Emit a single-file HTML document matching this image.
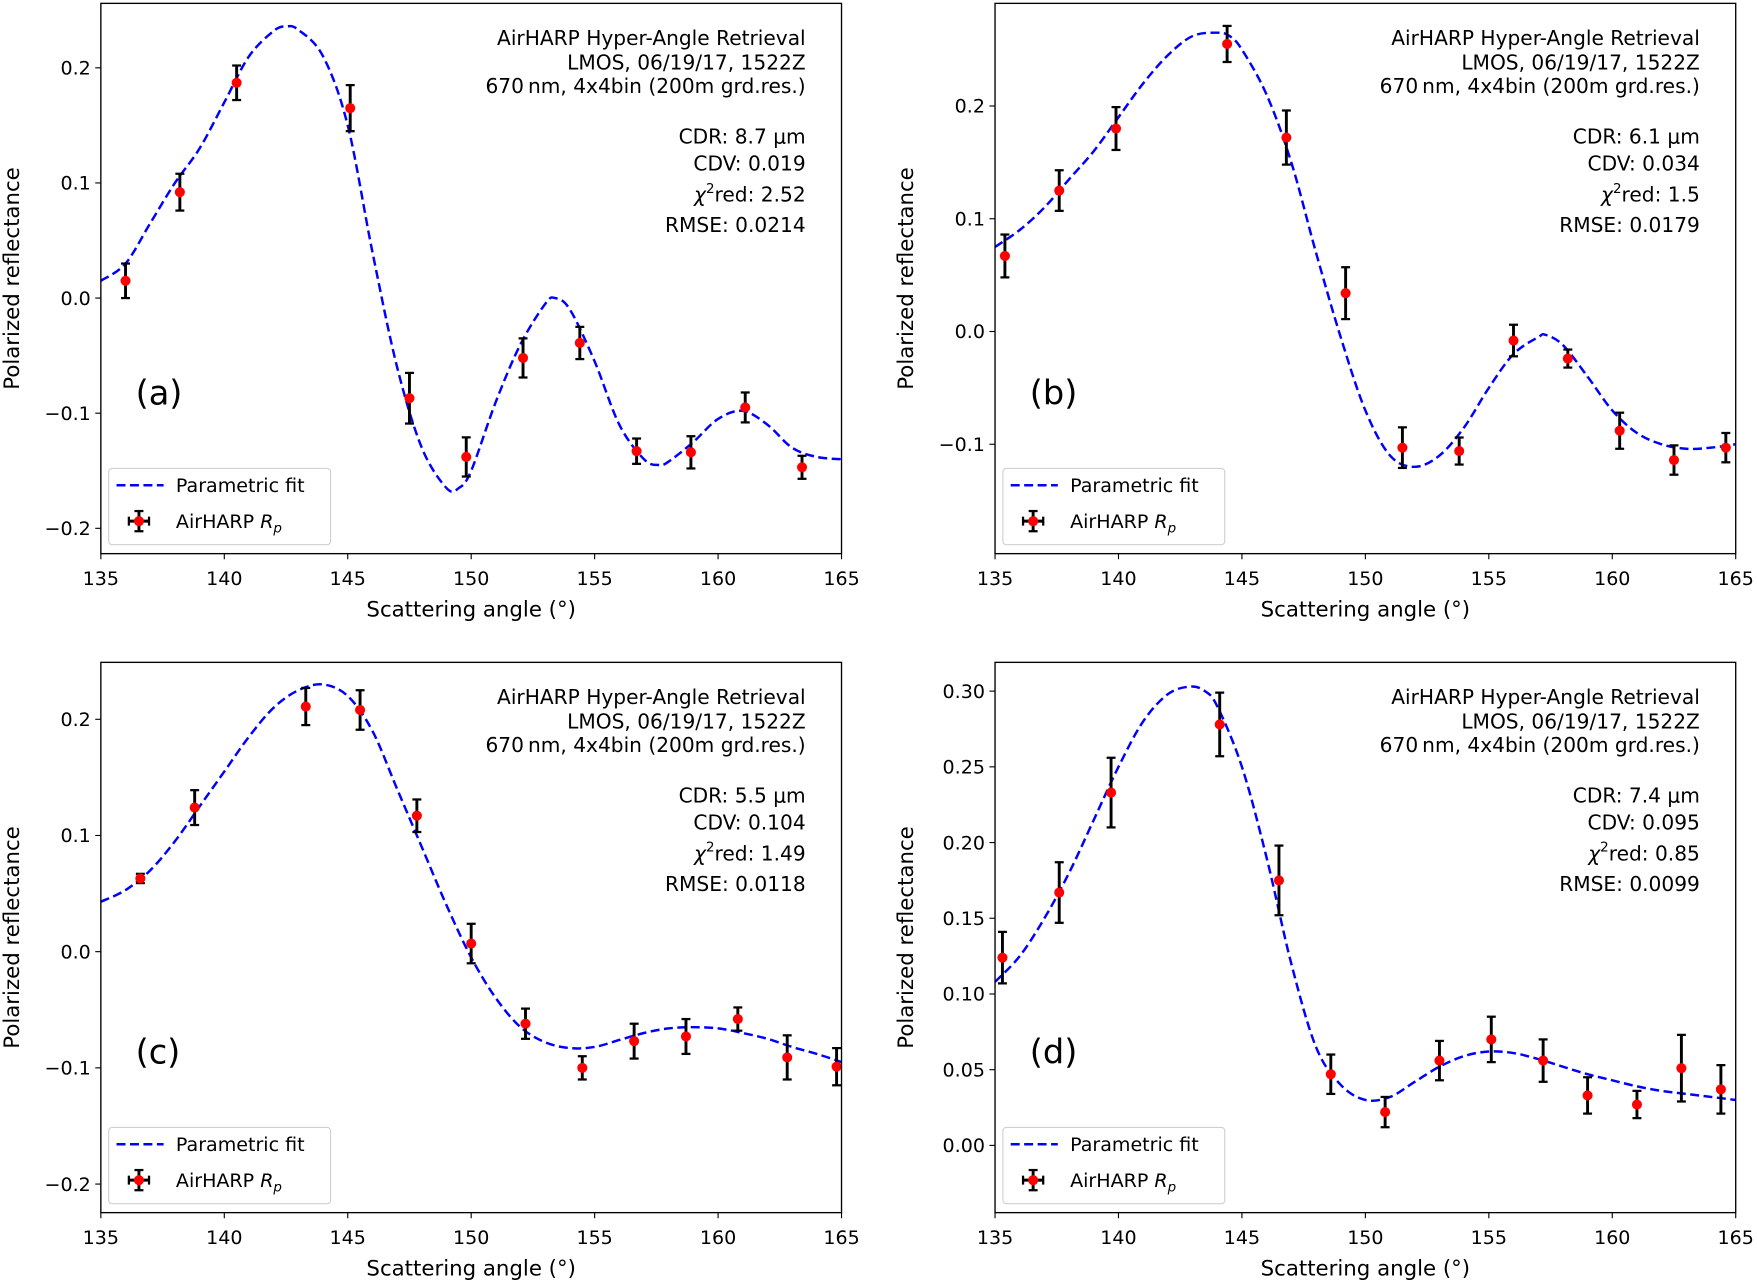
<!DOCTYPE html>
<html><head><meta charset="utf-8"><style>
html,body{margin:0;padding:0;background:#fff;}
svg{display:block;font-family:"DejaVu Sans","Liberation Sans",sans-serif;}
</style></head><body>
<svg id="fig" width="1757" height="1281" viewBox="0 0 1568 1143" preserveAspectRatio="none" xmlns="http://www.w3.org/2000/svg"></svg>
<script>
const xTicks=[135,140,145,150,155,160,165];
// panel a
const aX=[136.0,138.2,140.5,145.1,147.5,149.8,152.1,154.4,156.7,158.9,161.1,163.4];
const aY=[0.015,0.092,0.187,0.165,-0.087,-0.138,-0.052,-0.039,-0.133,-0.134,-0.095,-0.147];
const aE=[0.015,0.016,0.015,0.02,0.022,0.017,0.017,0.014,0.011,0.014,0.013,0.01];
const aFitX=[135,136,137,138,139,140,141,142,142.5,143,144,145,146,147,148,149,149.5,150,151,152,153,153.4,154,155,156,157,157.6,158,159,160,161,162,163,164,165];
const aFitY=[0.015,0.03,0.065,0.1,0.13,0.17,0.21,0.232,0.236,0.233,0.21,0.15,0.04,-0.06,-0.13,-0.165,-0.165,-0.15,-0.09,-0.04,-0.005,0.0,-0.01,-0.055,-0.11,-0.14,-0.145,-0.142,-0.125,-0.105,-0.098,-0.11,-0.13,-0.138,-0.14];
const aTicks=[-0.2,-0.1,0.0,0.1,0.2];
const aTickLabels=["\u22120.2","\u22120.1","0.0","0.1","0.2"];
const aStats=["CDR: 8.7 \u03bcm","CDV: 0.019","2.52","RMSE: 0.0214"];
// panel b
const bX=[135.4,137.6,139.9,144.4,146.8,149.2,151.5,153.8,156.0,158.2,160.3,162.5,164.6];
const bY=[0.067,0.125,0.18,0.255,0.172,0.034,-0.103,-0.106,-0.008,-0.024,-0.088,-0.114,-0.103];
const bE=[0.019,0.018,0.019,0.016,0.024,0.023,0.018,0.012,0.014,0.008,0.016,0.013,0.013];
const bFitX=[135,136,137,138,139,140,141,142,143,144,144.5,145,146,147,148,149,150,151,152,153,154,155,156,157,157.3,158,159,160,161,162,163,164,165];
const bFitY=[0.075,0.09,0.11,0.135,0.16,0.19,0.22,0.245,0.262,0.265,0.262,0.25,0.21,0.15,0.07,-0.005,-0.07,-0.11,-0.12,-0.11,-0.085,-0.05,-0.02,-0.005,-0.003,-0.012,-0.04,-0.07,-0.09,-0.1,-0.104,-0.103,-0.1];
const bTicks=[-0.1,0.0,0.1,0.2];
const bTickLabels=["\u22120.1","0.0","0.1","0.2"];
const bStats=["CDR: 6.1 \u03bcm","CDV: 0.034","1.5","RMSE: 0.0179"];
// panel c
const cX=[136.6,138.8,143.3,145.5,147.8,150.0,152.2,154.5,156.6,158.7,160.8,162.8,164.8];
const cY=[0.063,0.124,0.211,0.208,0.117,0.007,-0.062,-0.100,-0.077,-0.073,-0.058,-0.091,-0.099];
const cE=[0.004,0.015,0.016,0.017,0.014,0.017,0.013,0.01,0.015,0.015,0.01,0.019,0.016];
const cFitX=[135,136,137,138,139,140,141,142,143,144,145,146,147,148,149,150,151,152,153,154,155,156,157,158,159,160,161,162,163,164,165];
const cFitY=[0.043,0.053,0.07,0.095,0.125,0.155,0.185,0.21,0.225,0.23,0.22,0.19,0.14,0.09,0.04,-0.005,-0.04,-0.065,-0.078,-0.083,-0.082,-0.076,-0.07,-0.066,-0.065,-0.066,-0.07,-0.075,-0.082,-0.088,-0.095];
const cTicks=[-0.2,-0.1,0.0,0.1,0.2];
const cTickLabels=["\u22120.2","\u22120.1","0.0","0.1","0.2"];
const cStats=["CDR: 5.5 \u03bcm","CDV: 0.104","1.49","RMSE: 0.0118"];
// panel d
const dX=[135.3,137.6,139.7,144.1,146.5,148.6,150.8,153.0,155.1,157.2,159.0,161.0,162.8,164.4];
const dY=[0.124,0.167,0.233,0.278,0.175,0.047,0.022,0.056,0.070,0.056,0.033,0.027,0.051,0.037];
const dE=[0.017,0.02,0.023,0.021,0.023,0.013,0.01,0.013,0.015,0.014,0.012,0.009,0.022,0.016];
const dFitX=[135,136,137,138,139,140,141,142,142.9,143.5,144,145,146,147,148,149,150,151,152,153,154,155,156,157,158,159,160,161,162,163,164,165];
const dFitY=[0.108,0.125,0.15,0.18,0.215,0.25,0.28,0.298,0.303,0.3,0.29,0.25,0.19,0.12,0.065,0.04,0.03,0.032,0.042,0.052,0.059,0.062,0.061,0.057,0.052,0.047,0.043,0.039,0.036,0.034,0.032,0.03];
const dTicks=[0.0,0.05,0.10,0.15,0.20,0.25,0.30];
const dTickLabels=["0.00","0.05","0.10","0.15","0.20","0.25","0.30"];
const dStats=["CDR: 7.4 \u03bcm","CDV: 0.095","0.85","RMSE: 0.0099"];

const NS="http://www.w3.org/2000/svg";
const svg=document.getElementById('fig');
function mk(tag,attrs,parent,text){const e=document.createElementNS(NS,tag);for(const k in attrs)e.setAttribute(k,attrs[k]);if(text!==undefined)e.textContent=text;(parent||svg).appendChild(e);return e;}

function panel(id,L,T,ymin,ymax,X,Y,E,FX,FY,ticks,tickLabels,stats,letter){
  const R=L+661,B=T+491;
  const g=mk('g',{});
  
  
  const sx=v=>L+(v-135)/30*(R-L);
  const sy=v=>B-(v-ymin)/(ymax-ymin)*(B-T);
  const pts=FX.map((x,i)=>[sx(x),sy(FY[i])]);
  let d='M'+pts[0][0]+','+pts[0][1];
  for(let i=0;i<pts.length-1;i++){
    const p0=pts[Math.max(0,i-1)],p1=pts[i],p2=pts[i+1],p3=pts[Math.min(pts.length-1,i+2)];
    const c1=[p1[0]+(p2[0]-p0[0])/6,p1[1]+(p2[1]-p0[1])/6];
    const c2=[p2[0]-(p3[0]-p1[0])/6,p2[1]-(p3[1]-p1[1])/6];
    d+=' C'+c1[0]+','+c1[1]+' '+c2[0]+','+c2[1]+' '+p2[0]+','+p2[1];
  }
  const cp=mk('clipPath',{id:'clip'+id},g);
  mk('rect',{x:L,y:T,width:R-L,height:B-T},cp);
  const fit=mk('path',{d:d,fill:'none',stroke:'#0000ff','stroke-width':2.2,'stroke-dasharray':'8,4','clip-path':'url(#clip'+id+')'},g);
  
  
  X.forEach((x,i)=>{
    const px=sx(x),py=sy(Y[i]),pt=sy(Y[i]+E[i]),pb=sy(Y[i]-E[i]);
    const eg=mk('g',{},g);
    
    
    mk('line',{x1:px,y1:pt,x2:px,y2:pb,stroke:'#000','stroke-width':2.6},eg);
    mk('line',{x1:px-4,y1:pt,x2:px+4,y2:pt,stroke:'#000','stroke-width':2},eg);
    mk('line',{x1:px-4,y1:pb,x2:px+4,y2:pb,stroke:'#000','stroke-width':2},eg);
    mk('circle',{cx:px,cy:py,r:4.5,fill:'#ff0000'},eg);
  });
  const fr=mk('rect',{x:L,y:T,width:R-L,height:B-T,fill:'none',stroke:'#000','stroke-width':1.2},g);
  
  
  xTicks.forEach(t=>{
    const x=sx(t);
    mk('line',{x1:x,y1:B,x2:x,y2:B+5,stroke:'#000','stroke-width':1},g);
    const tl=mk('text',{x:x,y:B+28,'font-size':17,'text-anchor':'middle',fill:'#000'},g,String(t));
    
    
  });
  ticks.forEach((t,i)=>{
    const y=sy(t);
    mk('line',{x1:L-5,y1:y,x2:L,y2:y,stroke:'#000','stroke-width':1},g);
    const tl=mk('text',{x:L-9,y:y+6,'font-size':17,'text-anchor':'end',fill:'#000'},g,tickLabels[i]);
    
    
  });
  const xt=mk('text',{x:(L+R)/2,y:B+56,'font-size':19,'text-anchor':'middle',fill:'#000'},g,'Scattering angle  (\u00b0)');
  
  
  const yx=L-73,yy=(T+B)/2;
  const yt=mk('text',{x:yx,y:yy,'font-size':19,'text-anchor':'middle',fill:'#000',transform:'rotate(-90 '+yx+' '+yy+')'},g,'Polarized reflectance');
  
  
  const ax=L+629;
  const ann=mk('g',{'font-size':18,'text-anchor':'end',fill:'#000'},g);
  
  
  mk('text',{x:ax,y:T+37},ann,'AirHARP Hyper-Angle Retrieval');
  mk('text',{x:ax,y:T+59},ann,'LMOS, 06/19/17, 1522Z');
  mk('text',{x:ax,y:T+80},ann,'670\u2009nm, 4x4bin (200m grd.res.)');
  mk('text',{x:ax,y:T+125},ann,stats[0]);
  mk('text',{x:ax,y:T+149},ann,stats[1]);
  const chi=mk('text',{x:ax,y:T+177},ann);
  mk('tspan',{'font-style':'italic'},chi,'\u03c7');
  mk('tspan',{'font-size':12,dy:-8},chi,'2');
  mk('tspan',{dy:8},chi,'red: '+stats[2]);
  mk('text',{x:ax,y:T+204},ann,stats[3]);
  const lt=mk('text',{x:L+31,y:T+358,'font-size':30,fill:'#000'},g,letter);
  
  
  const lg=mk('g',{},g);
  
  
  mk('rect',{x:L+7,y:T+415,width:198,height:68,rx:3,fill:'#fff',stroke:'#d0d0d0','stroke-width':1},lg);
  mk('line',{x1:L+14,y1:T+430,x2:L+56,y2:T+430,stroke:'#0000ff','stroke-width':2.2,'stroke-dasharray':'8,4'},lg);
  mk('text',{x:L+67,y:T+436,'font-size':17,fill:'#000'},lg,'Parametric fit');
  const mx=L+34,my=T+462;
  mk('line',{x1:mx,y1:my-9,x2:mx,y2:my+9,stroke:'#000','stroke-width':2.6},lg);
  mk('line',{x1:mx-9,y1:my,x2:mx+9,y2:my,stroke:'#000','stroke-width':2.6},lg);
  mk('line',{x1:mx-4,y1:my-9,x2:mx+4,y2:my-9,stroke:'#000','stroke-width':2},lg);
  mk('line',{x1:mx-4,y1:my+9,x2:mx+4,y2:my+9,stroke:'#000','stroke-width':2},lg);
  mk('line',{x1:mx-9,y1:my-4,x2:mx-9,y2:my+4,stroke:'#000','stroke-width':2},lg);
  mk('line',{x1:mx+9,y1:my-4,x2:mx+9,y2:my+4,stroke:'#000','stroke-width':2},lg);
  mk('circle',{cx:mx,cy:my,r:4.5,fill:'#ff0000'},lg);
  const l2=mk('text',{x:L+67,y:T+468,'font-size':17,fill:'#000'},lg,'AirHARP ');
  mk('tspan',{'font-style':'italic'},l2,'R');
  mk('tspan',{'font-style':'italic','font-size':12,dy:4},l2,'p');
}
panel('a',90,3,-0.222,0.256,aX,aY,aE,aFitX,aFitY,aTicks,aTickLabels,aStats,'(a)');
panel('b',888,3,-0.197,0.291,bX,bY,bE,bFitX,bFitY,bTicks,bTickLabels,bStats,'(b)');
panel('c',90,591,-0.2246,0.249,cX,cY,cE,cFitX,cFitY,cTicks,cTickLabels,cStats,'(c)');
panel('d',888,591,-0.0444,0.319,dX,dY,dE,dFitX,dFitY,dTicks,dTickLabels,dStats,'(d)');
</script>
</body></html>
